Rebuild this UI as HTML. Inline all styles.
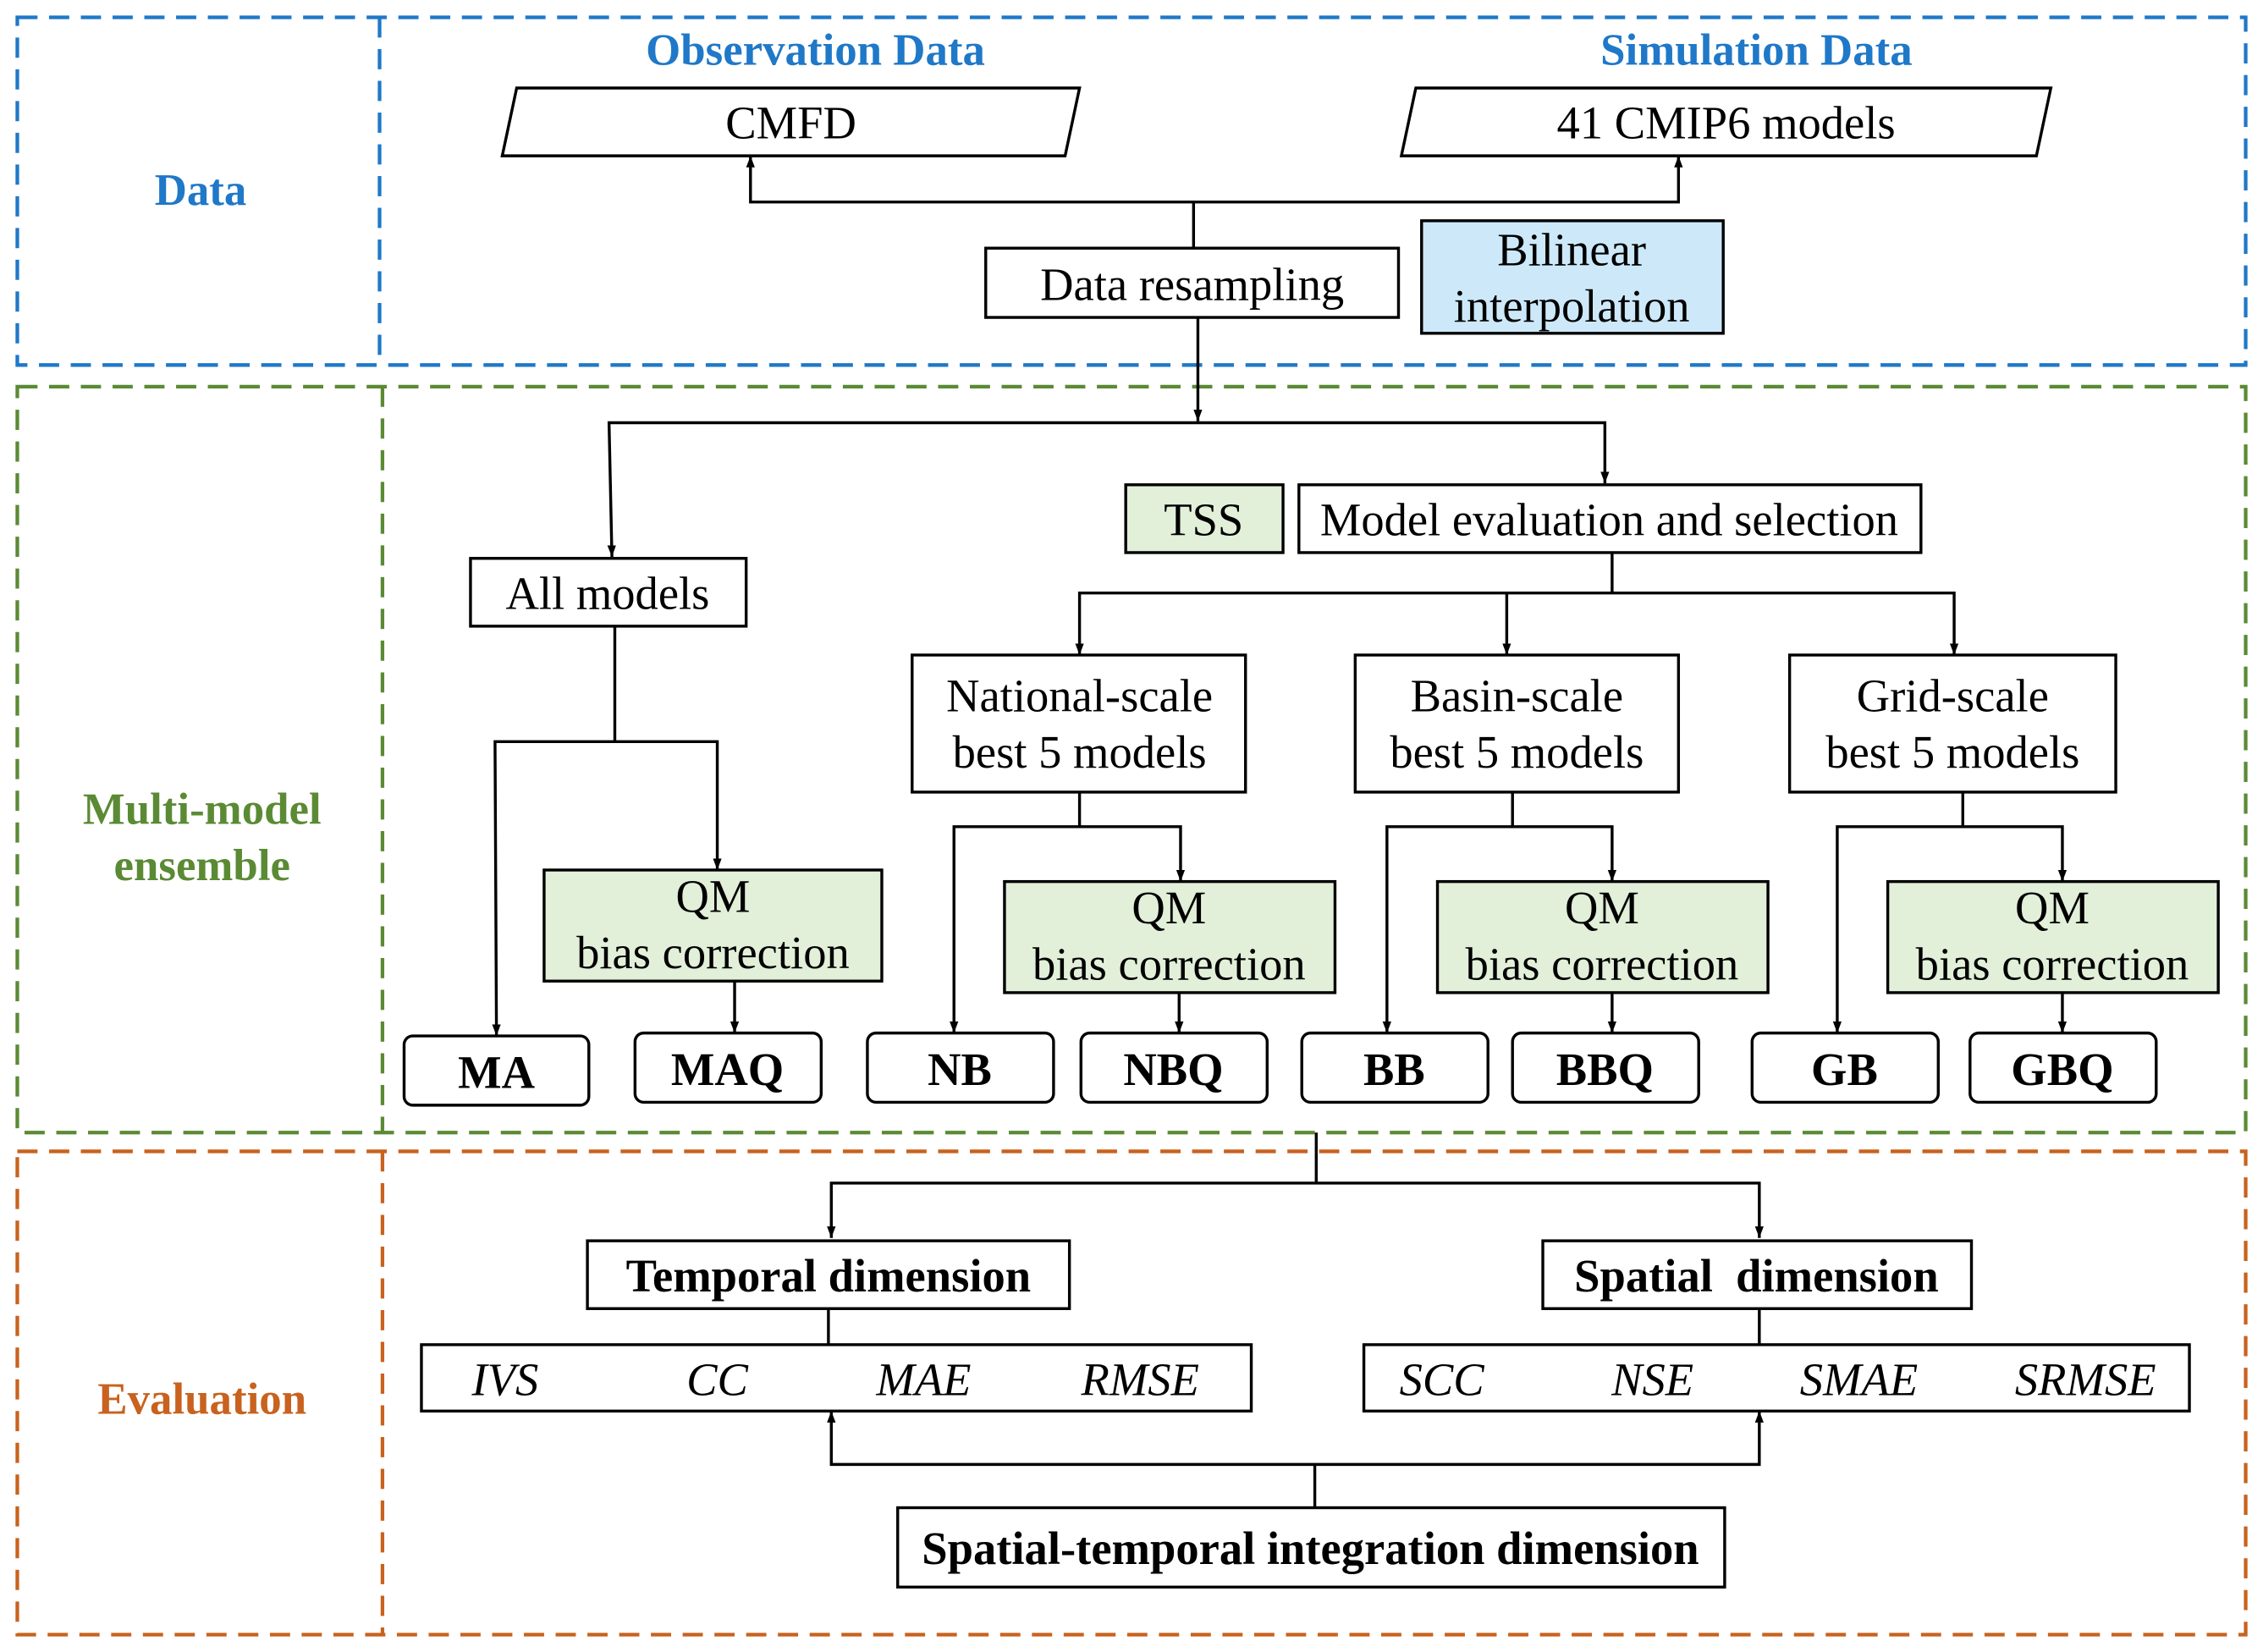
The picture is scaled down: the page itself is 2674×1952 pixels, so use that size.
<!DOCTYPE html>
<html><head><meta charset="utf-8">
<style>
html,body{margin:0;padding:0;background:#fff;}
svg{display:block;}
text{font-family:"Liberation Serif",serif;}
</style></head>
<body>
<svg width="2674" height="1952" viewBox="0 0 1568 1145" preserveAspectRatio="none" xmlns="http://www.w3.org/2000/svg">
<defs>
<marker id="a" markerWidth="9" markerHeight="9" refX="8" refY="4" orient="auto-start-reverse" markerUnits="userSpaceOnUse">
<path d="M0,1 L8,4 L0,7 Z" fill="#000"/>
</marker>
</defs>
<g fill="none" stroke-width="2.5" stroke-dasharray="14,8">
<rect x="12" y="12" width="1544" height="241" stroke="#1f78c8"/>
<line x1="263" y1="12" x2="263" y2="253" stroke="#1f78c8"/>
<rect x="12" y="268" width="1544" height="517" stroke="#5b8a34"/>
<line x1="265" y1="268" x2="265" y2="785" stroke="#5b8a34"/>
<rect x="12" y="798" width="1544" height="335" stroke="#c8621e"/>
<line x1="265" y1="798" x2="265" y2="1133" stroke="#c8621e"/>
</g>
<g font-weight="bold" font-size="31" text-anchor="middle">
<text x="139" y="142" fill="#1f78c8">Data</text>
<text x="565" y="45" fill="#1f78c8">Observation Data</text>
<text x="1217" y="45" fill="#1f78c8">Simulation Data</text>
<text x="140" y="571" fill="#5b8a34">Multi-model</text>
<text x="140" y="610" fill="#5b8a34">ensemble</text>
<text x="140" y="980" fill="#c8621e">Evaluation</text>
</g>
<g stroke="#000" stroke-width="2" fill="#fff">
<polygon points="358,61 748,61 738,108 348,108"/>
<polygon points="981,61 1421,61 1411,108 971,108"/>
<rect x="683" y="172" width="286" height="48"/>
<rect x="985" y="153" width="209" height="78" fill="#cde9f9"/>
<rect x="780" y="336" width="109" height="47" fill="#e2efd9"/>
<rect x="900" y="336" width="431" height="47"/>
<rect x="326" y="387" width="191" height="47"/>
<rect x="377" y="603" width="234" height="77" fill="#e2efd9"/>
<rect x="632" y="454" width="231" height="95"/>
<rect x="939" y="454" width="224" height="95"/>
<rect x="1240" y="454" width="226" height="95"/>
<rect x="696" y="611" width="229" height="77" fill="#e2efd9"/>
<rect x="996" y="611" width="229" height="77" fill="#e2efd9"/>
<rect x="1308" y="611" width="229" height="77" fill="#e2efd9"/>
<rect x="280" y="718" width="128" height="48" rx="6"/>
<rect x="440" y="716" width="129" height="48" rx="6"/>
<rect x="601" y="716" width="129" height="48" rx="6"/>
<rect x="749" y="716" width="129" height="48" rx="6"/>
<rect x="902" y="716" width="129" height="48" rx="6"/>
<rect x="1048" y="716" width="129" height="48" rx="6"/>
<rect x="1214" y="716" width="129" height="48" rx="6"/>
<rect x="1365" y="716" width="129" height="48" rx="6"/>
<rect x="407" y="860" width="334" height="47"/>
<rect x="1069" y="860" width="297" height="47"/>
<rect x="292" y="932" width="575" height="46"/>
<rect x="945" y="932" width="572" height="46"/>
<rect x="622" y="1045" width="573" height="55"/>
</g>
<g stroke="#000" stroke-width="2" fill="none">
<polyline points="520,108 520,140 1163,140 1163,108" marker-start="url(#a)" marker-end="url(#a)"/>
<line x1="827" y1="140" x2="827" y2="172"/>
<line x1="830" y1="220" x2="830" y2="292" marker-end="url(#a)"/>
<polyline points="424,386 422,293 1112,293 1112,335" marker-start="url(#a)" marker-end="url(#a)"/>
<polyline points="426,434 426,514"/>
<polyline points="344,718 343,514 497,514 497,603" marker-start="url(#a)" marker-end="url(#a)"/>
<line x1="509" y1="680" x2="509" y2="716" marker-end="url(#a)"/>
<line x1="1117" y1="383" x2="1117" y2="411"/>
<polyline points="748,454 748,411 1354,411 1354,454" marker-start="url(#a)" marker-end="url(#a)"/>
<line x1="1044" y1="411" x2="1044" y2="454" marker-end="url(#a)"/>
<line x1="748" y1="549" x2="748" y2="573"/>
<polyline points="661,716 661,573 818,573 818,611" marker-start="url(#a)" marker-end="url(#a)"/>
<line x1="817" y1="688" x2="817" y2="716" marker-end="url(#a)"/>
<line x1="1048" y1="549" x2="1048" y2="573"/>
<polyline points="961,716 961,573 1117,573 1117,611" marker-start="url(#a)" marker-end="url(#a)"/>
<line x1="1117" y1="688" x2="1117" y2="716" marker-end="url(#a)"/>
<line x1="1360" y1="549" x2="1360" y2="573"/>
<polyline points="1273,716 1273,573 1429,573 1429,611" marker-start="url(#a)" marker-end="url(#a)"/>
<line x1="1429" y1="688" x2="1429" y2="716" marker-end="url(#a)"/>
<line x1="912" y1="785" x2="912" y2="820"/>
<polyline points="576,858 576,820 1219,820 1219,858" marker-start="url(#a)" marker-end="url(#a)"/>
<line x1="574" y1="907" x2="574" y2="932"/>
<line x1="1219" y1="907" x2="1219" y2="932"/>
<polyline points="576,978 576,1015 1219,1015 1219,978" marker-start="url(#a)" marker-end="url(#a)"/>
<line x1="911" y1="1015" x2="911" y2="1045"/>
</g>
<g font-size="32" text-anchor="middle" fill="#000">
<text x="548" y="96">CMFD</text>
<text x="1196" y="96">41 CMIP6 models</text>
<text x="826" y="208">Data resampling</text>
<text x="1089" y="184">Bilinear</text>
<text x="1089" y="223">interpolation</text>
<text x="834" y="371">TSS</text>
<text x="1115" y="371">Model evaluation and selection</text>
<text x="421" y="422">All models</text>
<text x="494" y="632">QM</text>
<text x="494" y="671">bias correction</text>
<text x="748" y="493">National-scale</text>
<text x="748" y="532">best 5 models</text>
<text x="1051" y="493">Basin-scale</text>
<text x="1051" y="532">best 5 models</text>
<text x="1353" y="493">Grid-scale</text>
<text x="1353" y="532">best 5 models</text>
<text x="810" y="640">QM</text>
<text x="810" y="679">bias correction</text>
<text x="1110" y="640">QM</text>
<text x="1110" y="679">bias correction</text>
<text x="1422" y="640">QM</text>
<text x="1422" y="679">bias correction</text>
</g>
<g font-size="32" font-weight="bold" text-anchor="middle" fill="#000">
<text x="344" y="754">MA</text>
<text x="504" y="752">MAQ</text>
<text x="665" y="752">NB</text>
<text x="813" y="752">NBQ</text>
<text x="966" y="752">BB</text>
<text x="1112" y="752">BBQ</text>
<text x="1278" y="752">GB</text>
<text x="1429" y="752">GBQ</text>
<text x="574" y="895">Temporal dimension</text>
<text x="1217" y="895">Spatial&#160; dimension</text>
<text x="908" y="1084">Spatial-temporal integration dimension</text>
</g>
<g font-size="32" font-style="italic" text-anchor="middle" fill="#000">
<text x="350" y="967">IVS</text>
<text x="497" y="967">CC</text>
<text x="640" y="967">MAE</text>
<text x="790" y="967">RMSE</text>
<text x="999" y="967">SCC</text>
<text x="1145" y="967">NSE</text>
<text x="1288" y="967">SMAE</text>
<text x="1445" y="967">SRMSE</text>
</g>
</svg>
</body></html>
